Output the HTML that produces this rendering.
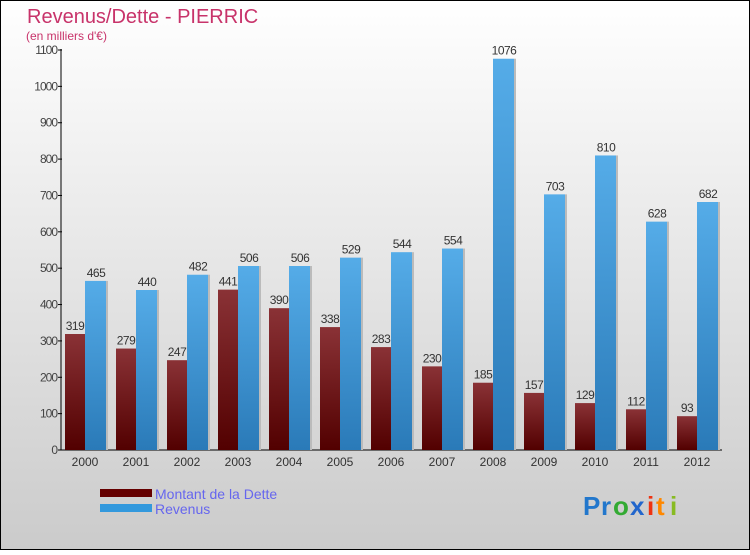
<!DOCTYPE html>
<html><head><meta charset="utf-8"><style>
body{margin:0}
#c{width:750px;height:550px;position:relative;font-family:"Liberation Sans",sans-serif}
</style></head><body>
<div id="c">
<svg width="750" height="550" xmlns="http://www.w3.org/2000/svg" id="svg">
<defs>
<linearGradient id="bg" x1="0" y1="0" x2="0" y2="1"><stop offset="0" stop-color="#ffffff"/><stop offset="1" stop-color="#cbcbcb"/></linearGradient>
<linearGradient id="gd" x1="0" y1="0" x2="0" y2="1"><stop offset="0" stop-color="#8a3236"/><stop offset="1" stop-color="#520000"/></linearGradient>
<linearGradient id="gr" x1="0" y1="0" x2="0" y2="1"><stop offset="0" stop-color="#55ace8"/><stop offset="1" stop-color="#2a7ab8"/></linearGradient>
</defs>
<rect x="0.5" y="0.5" width="749" height="549" fill="url(#bg)" stroke="#000"/>
<text x="27" y="23" font-size="20" fill="#c8336a">Revenus/Dette - PIERRIC</text>
<text x="26" y="40" font-size="12" fill="#c8336a">(en milliers d'€)</text>
<g id="axes"></g>
<g id="bars"></g>
<rect x="100" y="489" width="52" height="8" fill="#650000"/>
<rect x="100" y="504" width="52" height="8" fill="#3399dd"/>
<text x="155" y="499" font-size="14" fill="#6666ee">Montant de la Dette</text>
<text x="155" y="514" font-size="14" fill="#6666ee">Revenus</text>
<g font-size="26" font-weight="bold">
<text x="583" y="515" fill="#2277cc">P</text><text x="601" y="515" fill="#2277cc">r</text><text x="613" y="515" fill="#33aa33">o</text><text x="630" y="515" fill="#2266cc">x</text><text x="647" y="515" fill="#ee3311">i</text><text x="656" y="515" fill="#ff8800">t</text><text x="670" y="515" fill="#88bb22">i</text>
</g>
</svg>
</div>
<script>
const years=["2000","2001","2002","2003","2004","2005","2006","2007","2008","2009","2010","2011","2012"];
const dette=[319,279,247,441,390,338,283,230,185,157,129,112,93];
const revenus=[465,440,482,506,506,529,544,554,1076,703,810,628,682];
const ticks=[0,100,200,300,400,500,600,700,800,900,1000,1100];
const NS="http://www.w3.org/2000/svg";
const y0=450,ppu=400/1100;
function y(v){return y0-v*ppu;}
function xg(i){return 65+i*51;}
function mk(t,a,p){const e=document.createElementNS(NS,t);for(const k in a)e.setAttribute(k,a[k]);p.appendChild(e);return e;}
const ax=document.getElementById('axes'),bs=document.getElementById('bars');
const yl=mk('line',{x1:61,y1:49,x2:61,y2:450,stroke:'#000'},ax);


const xl=mk('line',{x1:61,y1:450,x2:722,y2:450,stroke:'#000'},ax);


ticks.forEach(v=>{
 const l=mk('line',{x1:58,x2:62,y1:y(v),y2:y(v),stroke:'#000'},ax);
 
 
 const t=mk('text',{x:57,y:y(v)+4,'font-size':12,'text-anchor':'end',fill:'#444','letter-spacing':'-1'},ax);
 t.textContent=v;
 
 
});
years.forEach((yr,i)=>{
 const x=xg(i);
 const t=mk('text',{x:x+20,y:466,'font-size':12,'text-anchor':'middle',fill:'#333'},ax);
 t.textContent=yr;
 
 
 mk('rect',{x:x+41,y:y(revenus[i]),width:2,height:revenus[i]*ppu,fill:'#bbb'},bs);
 const d=mk('rect',{x:x,y:y(dette[i]),width:20,height:dette[i]*ppu,fill:'url(#gd)'},bs);
 
 
 const r=mk('rect',{x:x+20,y:y(revenus[i]),width:21,height:revenus[i]*ppu,fill:'url(#gr)'},bs);
 
 
 const dl=mk('text',{x:x+10,y:y(dette[i])-4,'font-size':12,'text-anchor':'middle',fill:'#333','letter-spacing':'-0.5'},bs);
 dl.textContent=dette[i];
 
 
 const rl=mk('text',{x:x+31,y:y(revenus[i])-4,'font-size':12,'text-anchor':'middle',fill:'#333','letter-spacing':'-0.5'},bs);
 rl.textContent=revenus[i];
 
 
});
</script>
</body></html>
